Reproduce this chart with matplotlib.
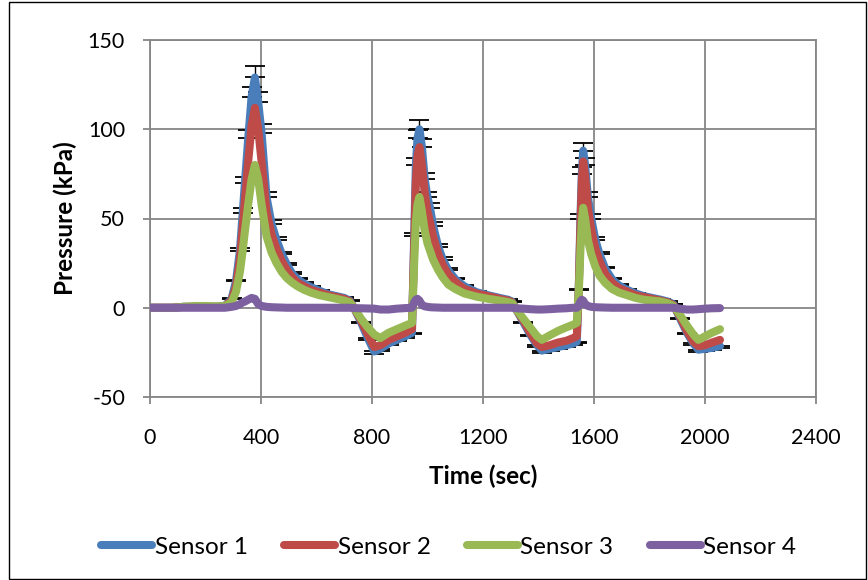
import matplotlib.pyplot as plt
from matplotlib.patches import Rectangle

# time stamps shared by all four sensors (sec)
time = [0, 40, 80, 120, 160, 200, 240, 270, 294, 310, 324, 334, 342, 354, 366, 378, 390, 402,
        420, 438, 456, 475, 494, 513, 532, 556, 580, 611, 642, 672, 700, 720, 735, 760, 785,
        808, 830, 860, 890, 920, 944,
        952, 958, 964, 971, 980, 990, 1000, 1009, 1020, 1039, 1055, 1075, 1100, 1133, 1177,
        1219, 1260, 1290, 1305, 1320, 1345, 1370, 1395, 1412, 1440, 1470, 1500, 1525, 1538,
        1545, 1551, 1556, 1561, 1568, 1578, 1590, 1605, 1620, 1640, 1665, 1690, 1720, 1750,
        1780, 1810, 1840, 1866, 1886, 1910, 1935, 1958, 1976, 2000, 2025, 2054]

# pressure readings (kPa)
sensor1 = [0, 0, 0, 0.5, 0.5, 0.5, 0.5, 1, 5, 15, 32, 53, 70, 95, 118, 129, 115, 98,
           62, 47, 38, 30, 24, 19, 16, 13.5, 11.5, 9.5, 7.6, 6.5, 5.5, 4, 0, -8, -17,
           -24.5, -23, -20, -18, -16, -14,
           40, 80, 95, 100, 90, 72, 62, 56, 46, 34, 27, 21, 16, 12, 8.7,
           7, 5.5, 4.5, 3.5, -1, -8, -15, -21, -24, -23, -22, -21, -20, -19,
           10, 50, 75, 88, 80, 62, 50, 38, 30, 22, 16, 12.5, 10, 8,
           6.5, 5.5, 4.5, 3.5, 2, -6, -14, -20, -23.5, -23, -22.5, -21.5]

sensor2 = [0, 0, 0, 0.5, 0.5, 0.5, 0.5, 1, 4, 12, 27, 45, 60, 82, 102, 112, 100, 82,
           54, 41, 33, 26, 21, 17, 14, 12, 10, 8.5, 7, 6, 5, 3.5, 0, -7, -15,
           -22, -21, -18, -16, -14, -12,
           35, 70, 85, 90, 80, 64, 54, 48, 40, 30, 24, 18.5, 14.5, 10.5, 8,
           6.5, 5, 4, 3, -1, -7, -14, -20, -22, -21, -19.5, -18.5, -17, -16,
           10, 45, 70, 82, 74, 56, 44, 33, 26, 19, 14, 11, 9, 7,
           6, 5, 4, 3, 1.5, -5, -13, -19, -21.5, -21, -19.5, -18]

sensor3 = [0, 0, 0, 0.5, 1, 1, 0.8, 1, 3, 9, 20, 32, 43, 58, 72, 80, 72, 58,
           40, 31, 25, 20, 16.5, 14, 12, 10, 8.5, 7, 6, 5, 4, 3, 0, -6, -11,
           -15, -17, -14, -12, -10, -8.5,
           25, 48, 58, 62, 54, 43, 36, 32, 27, 21, 17, 13, 10.5, 8, 6.2,
           5, 4, 3.2, 2.5, -1, -6, -11, -16, -18, -15.5, -13, -11, -9.5, -8.5,
           8, 32, 48, 56, 50, 38, 30, 23, 18, 14, 10.5, 8.5, 7, 5.5,
           4.5, 4, 3.5, 2.5, 1, -4, -10, -15, -18, -16, -14, -12]

sensor4 = [0, 0, 0, 0, 0, 0, 0, 0, 0.5, 1, 2, 3, 3.5, 4.5, 5.5, 5, 2, 1,
           0.5, 0.3, 0.2, 0.1, 0, 0, 0, 0, 0, 0, 0, 0, 0, 0, -0.2, -0.3, -0.4,
           -0.5, -1, -1, -0.5, -0.2, 0,
           3, 4.5, 5, 4, 1.5, 0.8, 0.5, 0.3, 0.2, 0.1, 0, 0, 0, 0, 0,
           0, 0, 0, 0, -0.3, -0.5, -0.8, -1, -1, -0.8, -0.5, -0.3, 0, 0,
           1, 3.5, 4.5, 4, 2, 1, 0.5, 0.3, 0.2, 0.1, 0, 0, 0, 0,
           0, 0, 0, 0, 0, -0.5, -1, -1, -0.8, -0.5, -0.3, -0.2]

# sensor 1 error bars: 5 % of the reading, pointing away from zero
err_pct = 0.05
err1 = [abs(v) * err_pct for v in sensor1]
err_lo = [0 if v >= 0 else e for v, e in zip(sensor1, err1)]
err_hi = [e if v >= 0 else 0 for v, e in zip(sensor1, err1)]

names = ['Sensor 1', 'Sensor 2', 'Sensor 3', 'Sensor 4']
colors = ['#4a7ebb', '#be4b48', '#98b954', '#7d60a0']

plt.rcParams['font.family'] = ['Lato', 'DejaVu Sans']
plt.rcParams['axes.unicode_minus'] = False

fig = plt.figure(figsize=(8.68, 5.8), dpi=100)
ax = fig.add_axes([150 / 868, 1 - 397 / 580, 666 / 868, 357 / 580])

ax.errorbar(time, sensor1, yerr=[err_lo, err_hi], fmt='none', ecolor='black',
            elinewidth=1, capsize=7, capthick=1.3, zorder=2)
for vals, name, c, z in zip([sensor1, sensor2, sensor3, sensor4], names, colors, [3, 4, 5, 6]):
    ax.plot(time, vals, color=c, lw=5.8, label=name, zorder=z,
            solid_joinstyle='round', solid_capstyle='round')

ax.set_xlim(0, 2400)
ax.set_ylim(-50, 150)
ax.set_xticks(range(0, 2401, 400))
ax.set_yticks(range(-50, 151, 50))
ax.grid(True, color='#868686', lw=1.3)
ax.set_axisbelow(True)
for s in ax.spines.values():
    s.set_color('#868686')
    s.set_linewidth(1.3)
ax.tick_params(colors='#868686', labelcolor='black', labelsize=15.5, length=5, width=1.3)
ax.tick_params(axis='x', pad=17)
ax.tick_params(axis='y', pad=13)

ax.set_xlabel('Time (sec)', fontsize=17.5, fontweight='bold', labelpad=12)
ax.set_ylabel('Pressure (kPa)', fontsize=17.5, fontweight='bold', labelpad=8)

fig.legend(loc='center', bbox_to_anchor=(0.517, 1 - 547 / 580), ncol=4, frameon=False,
           fontsize=17.5, handlelength=2.1, columnspacing=1.5, handletextpad=0.1)

# thin border around the whole chart area
fig.patches.append(Rectangle((9 / 868, 1 / 580), 857 / 868, 577 / 580, transform=fig.transFigure,
                             fill=False, ec='black', lw=1))

fig.savefig('out.png', dpi=100)
